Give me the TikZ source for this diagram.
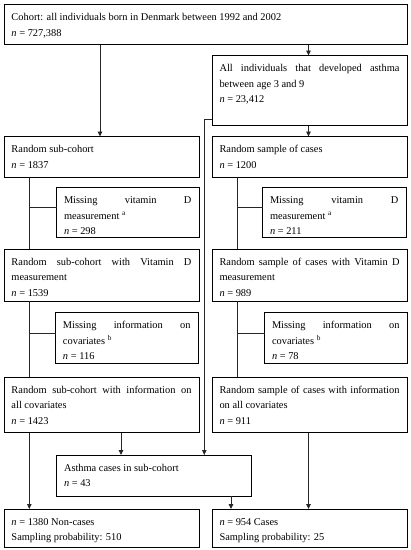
\documentclass[tikz,border=0pt]{standalone}
\usepackage{fontspec}
\setmainfont{Liberation Serif}
\usetikzlibrary{arrows.meta}
\hyphenpenalty=10000
\exhyphenpenalty=10000
\tikzset{
  bx/.style={draw=black, line width=0.95pt, inner sep=0pt, outer sep=0pt,
    font=\fontsize{10.4}{15.5}\selectfont},
  ln/.style={draw=black!85, line width=0.85pt},
  arr/.style={ln, -{Triangle[length=5pt,width=4.5pt]}},
}
% name, x1, y1, x2, y2, text
\newcommand{\fbx}[6]{%
  \pgfmathsetlengthmacro{\bxw}{#4-#2}%
  \pgfmathsetlengthmacro{\bxh}{#5-#3}%
  \pgfmathsetlengthmacro{\bxtw}{#4-#2-15}%
  \pgfmathsetlengthmacro{\bxth}{#5-#3-11}%
  \node[bx, minimum width=\bxw, minimum height=\bxh] (#1) at ({(#2+#4)/2},{(#3+#5)/2})
    {\begin{minipage}[c][\bxth][t]{\bxtw}\strut #6\end{minipage}};%
}
\begin{document}
\begin{tikzpicture}[x=1pt, y=-1pt]
\useasboundingbox (0,0) rectangle (411,550);

\fbx{cohort}{4}{4.5}{407}{44.5}{Cohort: all individuals born in Denmark between 1992 and 2002\\ \textit{n} = 727,388}
\fbx{asthmaAll}{212}{55.5}{407}{125.5}{All individuals that developed asthma\linebreak between age 3 and 9\\ \textit{n} = 23,412}
\fbx{subcoh}{4}{136.5}{199}{177.5}{Random sub-cohort\\ \textit{n} = 1837}
\fbx{sample}{212}{136.5}{407}{177.5}{Random sample of cases\\ \textit{n} = 1200}
\fbx{missLa}{56.5}{187.5}{199}{237.5}{Missing vitamin D\linebreak measurement \textsuperscript{a}\\ \textit{n} = 298}
\fbx{missRa}{262.5}{187.5}{406}{237.5}{Missing vitamin D\linebreak measurement \textsuperscript{a}\\ \textit{n} = 211}
\fbx{subcohVD}{4}{249}{199}{301}{Random sub-cohort with Vitamin D\linebreak measurement\\ \textit{n} = 1539}
\fbx{sampleVD}{212}{249}{407}{301}{Random sample of cases with Vitamin D\linebreak measurement\\ \textit{n} = 989}
\fbx{missLb}{55.5}{312.5}{198}{363.5}{Missing information on\linebreak covariates \textsuperscript{b}\\ \textit{n} = 116}
\fbx{missRb}{264.5}{312.5}{407}{363.5}{Missing information on\linebreak covariates \textsuperscript{b}\\ \textit{n} = 78}
\fbx{subcohCov}{4}{377}{199}{432.5}{Random sub-cohort with information on\linebreak all covariates\\ \textit{n} = 1423}
\fbx{sampleCov}{212}{377}{407}{432.5}{Random sample of cases with information\linebreak on all covariates\\ \textit{n} = 911}
\fbx{asthmaSub}{56.5}{455}{251}{496}{Asthma cases in sub-cohort\\ \textit{n} = 43}
\fbx{noncases}{4}{509}{199}{547}{\textit{n} = 1380 Non-cases\\ Sampling probability: 510}
\fbx{cases}{212}{509}{407}{547}{\textit{n} = 954 Cases\\ Sampling probability: 25}

% reference coordinates
\coordinate (xA) at (100,0);
\coordinate (xB) at (308.5,0);
\coordinate (xL) at (29.3,0);
\coordinate (xR) at (237.5,0);
\coordinate (xM) at (204.3,0);
\coordinate (xS) at (121,0);
\coordinate (xT) at (231,0);
\coordinate (ya) at (0,207.5);
\coordinate (yb) at (0,333.3);
\coordinate (yc) at (0,119.5);

\draw[arr] (cohort.south -| xA) -- (subcoh.north -| xA);
\draw[arr] (cohort.south -| xB) -- (asthmaAll.north -| xB);
\draw[arr] (asthmaAll.south -| xB) -- (sample.north -| xB);
\draw[arr] (asthmaAll.west |- yc) -- (xM |- yc) -- (asthmaSub.north -| xM);

\draw[ln] (subcoh.south -| xL) -- (subcohVD.north -| xL);
\draw[ln] (xL |- ya) -- (missLa.west |- ya);
\draw[ln] (sample.south -| xR) -- (sampleVD.north -| xR);
\draw[ln] (xR |- ya) -- (missRa.west |- ya);
\draw[ln] (subcohVD.south -| xL) -- (subcohCov.north -| xL);
\draw[ln] (xL |- yb) -- (missLb.west |- yb);
\draw[ln] (sampleVD.south -| xR) -- (sampleCov.north -| xR);
\draw[ln] (xR |- yb) -- (missRb.west |- yb);

\draw[arr] (subcohCov.south -| xL) -- (noncases.north -| xL);
\draw[arr] (subcohCov.south -| xS) -- (asthmaSub.north -| xS);
\draw[arr] (asthmaSub.south -| xT) -- (cases.north -| xT);
\draw[arr] (sampleCov.south -| xB) -- (cases.north -| xB);
\end{tikzpicture}
\end{document}
